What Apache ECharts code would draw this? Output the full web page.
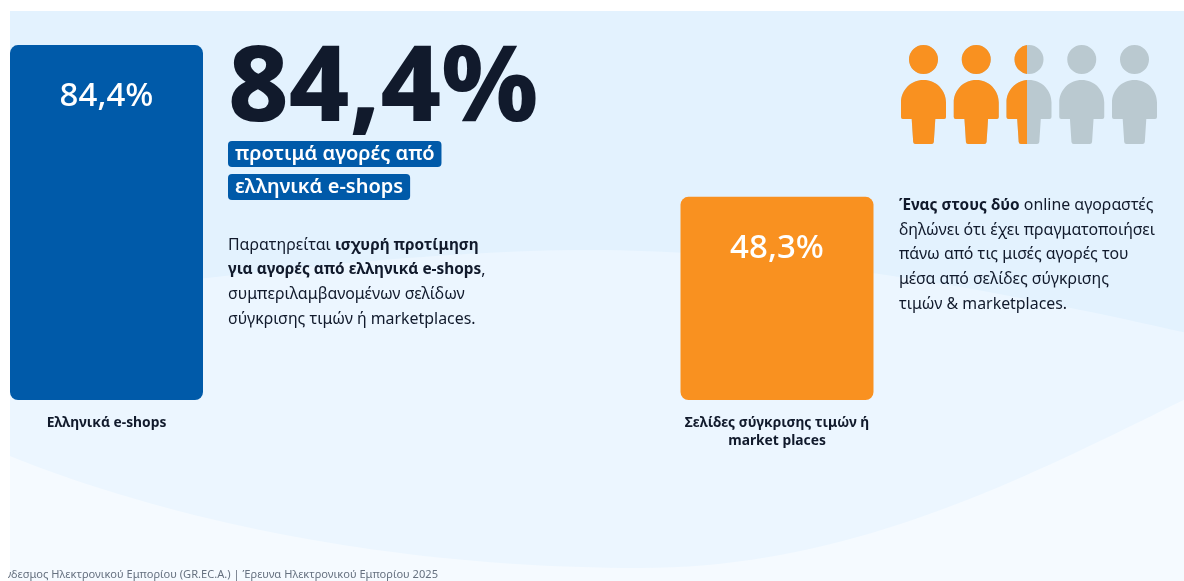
<!DOCTYPE html>
<html lang="el">
<head>
<meta charset="utf-8">
<title>Προτιμήσεις online αγοραστών</title>
<script src="https://cdn.jsdelivr.net/npm/echarts@6/dist/echarts.min.js"></script>
<style>
  html, body { margin: 0; padding: 0; background: #fff; }
  #chart { width: 1184px; height: 581px; }
</style>
</head>
<body>
<div id="chart"></div>
<script>
// Survey values
const categories = ['Ελληνικά e-shops', 'Σελίδες σύγκρισης τιμών ή\nmarket places'];
const shares = [84.4, 48.3];
const barColors = ['#005AA9', '#F99120'];

// Icon row: how many of five people are filled
const peopleTotal = 5;
const peopleFilled = 2.46;

// Copy
const headline = '84,4%';
const pills = ['προτιμά αγορές από', 'ελληνικά e-shops'];
const leftNote = '{n|Παρατηρείται }{b|ισχυρή προτίμηση}\n{b|για αγορές από ελληνικά e-shops}{n|,}\n{n|συμπεριλαμβανομένων σελίδων}\n{n|σύγκρισης τιμών ή marketplaces.}';
const rightNote = '{b|Ένας στους δύο}{n| online αγοραστές}\n{n|δηλώνει ότι έχει πραγματοποιήσει}\n{n|πάνω από τις μισές αγορές του}\n{n|μέσα από σελίδες σύγκρισης}\n{n|τιμών & marketplaces.}';
const sourceNote = 'Ελληνικός Σύνδεσμος Ηλεκτρονικού Εμπορίου (GR.EC.A.) | Έρευνα Ηλεκτρονικού Εμπορίου 2025';

const FONT = '"Noto Sans", sans-serif';
const INK = '#111A2C';

// Person pictogram: head plus rounded shoulders on a tapered torso
const personPath = 'path://M22.5,0A14.5,14.5,0,1,1,22.5,29A14.5,14.5,0,1,1,22.5,0Z' +
  'M22.5,35C35,35,45,45,45,57.5L45,72Q45,74,43,74L34.3,74L32.8,97Q32.6,99,30.5,99L14.5,99Q12.4,99,12.2,97L10.7,74L2,74Q0,74,0,72L0,57.5C0,45,10,35,22.5,35Z';

// Samples a run of cubic curves into polygon vertices for the background waves
function curve(start, segments) {
  const pts = [start];
  let p0 = start;
  segments.forEach(([c1, c2, p1]) => {
    for (let i = 1; i <= 40; i++) {
      const t = i / 40;
      const u = 1 - t;
      pts.push([0, 1].map((k) =>
        u * u * u * p0[k] + 3 * u * u * t * c1[k] + 3 * u * t * t * c2[k] + t * t * t * p1[k]));
    }
    p0 = p1;
  });
  return pts;
}

const upperWave = curve([-10, 305], [
  [[150, 285], [400, 250], [590, 250]],
  [[780, 250], [1000, 290], [1200, 336]]
]).concat([[1200, 590], [-10, 590]]);

const lowerWave = curve([0, 452], [
  [[190, 530], [420, 568], [640, 568]],
  [[860, 568], [1040, 470], [1200, 392]]
]).concat([[1200, 590], [0, 590]]);

function noteStyle(text) {
  const base = { fontFamily: FONT, lineHeight: 24.7, fill: INK, color: INK };
  return {
    text,
    fontFamily: FONT,
    fontSize: 16,
    lineHeight: 24.7,
    rich: {
      n: { ...base, fontSize: 15.9, fontWeight: 400 },
      b: { ...base, fontSize: 15.4, fontWeight: 700 }
    }
  };
}

function pillStyle(text) {
  return {
    text,
    fontFamily: FONT,
    fontSize: 20,
    fontWeight: 600,
    fill: '#fff',
    backgroundColor: '#005AA9',
    borderRadius: 4,
    padding: [3, 7, 3, 7],
    verticalAlign: 'middle'
  };
}

const chart = echarts.init(document.getElementById('chart'), null, { renderer: 'canvas' });

chart.setOption({
  animation: false,
  backgroundColor: '#fff',
  grid: [
    { left: 106.5, top: 21.5, width: 670.5, height: 378.5 },
    { left: 901, top: 45, width: 256, height: 99 }
  ],
  xAxis: [
    {
      type: 'category',
      gridIndex: 0,
      boundaryGap: false,
      data: categories,
      axisLine: { show: false },
      axisTick: { show: false },
      axisLabel: {
        margin: 14,
        fontFamily: FONT,
        fontSize: 13.8,
        fontWeight: 700,
        lineHeight: 18,
        color: INK,
        interval: 0
      }
    },
    { type: 'value', gridIndex: 1, min: 0, max: peopleTotal, show: false }
  ],
  yAxis: [
    { type: 'value', gridIndex: 0, min: 0, max: 90, show: false },
    { type: 'category', gridIndex: 1, data: ['people'], show: false }
  ],
  series: [
    {
      type: 'bar',
      xAxisIndex: 0,
      yAxisIndex: 0,
      barWidth: 193,
      clip: false,
      data: shares.map((v, i) => ({
        value: v,
        itemStyle: { color: barColors[i], borderRadius: 8 }
      })),
      label: {
        show: true,
        position: 'insideTop',
        distance: 35.5,
        formatter: (p) => String(p.value).replace('.', ',') + '%',
        fontFamily: FONT,
        fontSize: 33,
        fontWeight: 500,
        color: '#fff'
      }
    },
    {
      type: 'pictorialBar',
      xAxisIndex: 1,
      yAxisIndex: 1,
      symbol: personPath,
      symbolSize: [45, 99],
      symbolRepeat: peopleTotal,
      symbolBoundingData: peopleTotal,
      itemStyle: { color: '#BAC9D0' },
      z: 3,
      data: [peopleTotal]
    },
    {
      type: 'pictorialBar',
      xAxisIndex: 1,
      yAxisIndex: 1,
      symbol: personPath,
      symbolSize: [45, 99],
      symbolRepeat: peopleTotal,
      symbolBoundingData: peopleTotal,
      symbolClip: true,
      itemStyle: { color: '#F99120' },
      z: 4,
      data: [peopleFilled]
    }
  ],
  graphic: [
    // Panel and its two soft background waves
    { type: 'rect', z: -10, shape: { x: 0, y: 0, width: 1184, height: 581 }, style: { fill: '#E3F2FE' } },
    { type: 'polygon', z: -9, shape: { points: upperWave }, style: { fill: '#ECF6FF' } },
    { type: 'polygon', z: -8, shape: { points: lowerWave }, style: { fill: '#F5FAFF' } },
    // Headline and its highlighted subtitle
    {
      type: 'text', z: 5, x: 228, y: 91,
      style: { text: headline, fontFamily: FONT, fontSize: 105, fontWeight: 800, fill: INK, verticalAlign: 'middle' }
    },
    { type: 'text', z: 5, x: 228, y: 154, style: pillStyle(pills[0]) },
    { type: 'text', z: 5, x: 228, y: 187, style: pillStyle(pills[1]) },
    { type: 'text', z: 5, x: 228, y: 233, style: noteStyle(leftNote) },
    { type: 'text', z: 5, x: 899, y: 193, style: noteStyle(rightNote) },
    // White page margin to the left of the panel
    { type: 'rect', z: 4, shape: { x: 8, y: 0, width: 2, height: 581 }, style: { fill: '#fff' } },
    // Source line, running off the panel's left edge
    {
      type: 'text', z: 5, x: 438, y: 575,
      style: { text: sourceNote, fontFamily: FONT, fontSize: 11.1, fill: '#667180', align: 'right', verticalAlign: 'middle' }
    },
    { type: 'rect', z: 6, shape: { x: 0, y: 0, width: 8, height: 581 }, style: { fill: '#fff' } },
    { type: 'rect', z: 6, shape: { x: 0, y: 0, width: 1184, height: 11 }, style: { fill: '#fff' } }
  ]
});
</script>
</body>
</html>
